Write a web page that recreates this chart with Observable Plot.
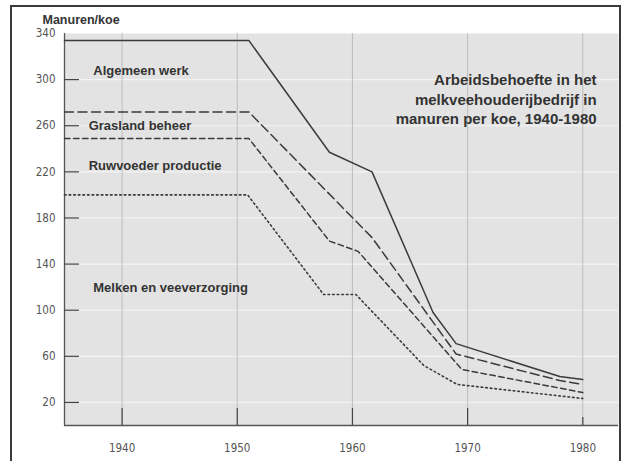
<!DOCTYPE html>
<html>
<head>
<meta charset="utf-8">
<script src="https://cdn.jsdelivr.net/npm/d3@7"></script>
<script src="https://cdn.jsdelivr.net/npm/@observablehq/plot@0.6"></script>
<style>
  html, body { margin: 0; padding: 0; background: #ffffff; }
  #wrap { position: relative; width: 623px; height: 461px; overflow: hidden; background: #fff; }
  #border { position: absolute; left: 10px; top: 5px; width: 607px; height: 480px; border: 2.5px solid #3a3a3a; pointer-events: none; }
  #wrap svg { position: absolute; left: 0; top: 0; }
</style>
</head>
<body>
<div id="wrap"><div id="border"></div></div>
<script>
// Series
const algemeenYears  = [1935, 1951, 1958, 1961.7, 1967, 1969, 1978, 1980];
const algemeenValues = [334, 334, 237, 220, 98, 71, 42.5, 40];

const graslandYears  = [1935, 1951, 1961.7, 1969, 1978, 1980];
const graslandValues = [272, 272, 163, 62, 39, 35.5];

const ruwvoederYears  = [1935, 1951, 1958, 1960.5, 1969.5, 1980];
const ruwvoederValues = [249, 249, 160, 151, 48.6, 28.6];

const melkenYears  = [1935, 1950.9, 1957.5, 1960.3, 1966.2, 1969.1, 1980];
const melkenValues = [200, 200, 113.6, 113.6, 52, 35.6, 23.4];

const xTicks = [1940, 1950, 1960, 1970, 1980];
const yTicks = [20, 60, 100, 140, 180, 220, 260, 300, 340];
const yTickMarks = [20, 60, 100, 140, 180, 220, 260, 300];

const labelTexts = ["Algemeen werk", "Grasland beheer", "Ruwvoeder productie", "Melken en veeverzorging"];
const labelYears = [1937.5, 1937.1, 1937.1, 1937.5];
const labelValues = [308, 259.5, 225.5, 119];

const titleText = "Arbeidsbehoefte in het\nmelkveehouderijbedrijf in\nmanuren per koe, 1940-1980";
const titleYear = 1981.2;
const titleValue = 283.5;
const yAxisTitle = "Manuren/koe";

const toRows = (xs, ys) => xs.map((x, i) => ({x, y: ys[i]}));
const algemeen = toRows(algemeenYears, algemeenValues);
const grasland = toRows(graslandYears, graslandValues);
const ruwvoeder = toRows(ruwvoederYears, ruwvoederValues);
const melken = toRows(melkenYears, melkenValues);
const labels = labelTexts.map((t, i) => ({t, x: labelYears[i], y: labelValues[i]}));

const lineColor = "#3b3b3b";
const boldFont = "Liberation Sans, Arial, Helvetica, sans-serif";
const tickFont = "DejaVu Sans Condensed, Liberation Sans Narrow, sans-serif";

const chart = Plot.plot({
  width: 623,
  height: 461,
  marginLeft: 64,
  marginRight: 5,
  marginTop: 33,
  marginBottom: 36,
  style: {background: "transparent"},
  x: {domain: [1935, 1983.1]},
  y: {domain: [0, 340]},
  marks: [
    Plot.frame({fill: "#e3e3e3", stroke: null}),
    Plot.gridY(yTickMarks, {stroke: "#f4f4f4", strokeOpacity: 1, strokeWidth: 1.2}),
    Plot.gridX(xTicks, {stroke: "#b4b4b4", strokeOpacity: 1, strokeWidth: 0.8}),
    Plot.ruleX([1935], {stroke: "#555", strokeWidth: 1.3}),
    Plot.ruleY([0], {stroke: "#555", strokeWidth: 1.3}),
    Plot.ruleY(yTickMarks, {y: d => d, x1: 1935, x2: 1936.3, stroke: "#444", strokeWidth: 1.2}),
    Plot.ruleX(xTicks, {x: d => d, y1: 0, y2: d => d === 1980 ? 7 : 14.7, stroke: "#444", strokeWidth: 1.2}),
    Plot.axisY(yTicks, {tickSize: 0, tickPadding: 9, fontSize: 11.5, fontFamily: tickFont, fill: "#555", label: null}),
    Plot.axisX(xTicks, {tickSize: 0, tickPadding: 18, fontSize: 11.5, fontFamily: tickFont, fill: "#555", label: null, tickFormat: d => String(d)}),
    Plot.line(algemeen, {x: "x", y: "y", stroke: lineColor, strokeWidth: 1.5}),
    Plot.line(grasland, {x: "x", y: "y", stroke: lineColor, strokeWidth: 1.5, strokeDasharray: "9,4.5"}),
    Plot.line(ruwvoeder, {x: "x", y: "y", stroke: lineColor, strokeWidth: 1.5, strokeDasharray: "5.5,3.5"}),
    Plot.line(melken, {x: "x", y: "y", stroke: lineColor, strokeWidth: 1.6, strokeDasharray: "1.6,3"}),
    Plot.text(labels, {x: "x", y: "y", text: "t", textAnchor: "start", fontSize: 13, fontWeight: "bold", fontFamily: boldFont, fill: "#333"}),
    Plot.text([titleText], {x: titleYear, y: titleValue, text: d => d, textAnchor: "end", lineAnchor: "middle", lineHeight: 1.3, fontSize: 15, fontWeight: "bold", fontFamily: boldFont, fill: "#333"}),
    Plot.text([yAxisTitle], {frameAnchor: "top-left", text: d => d, dx: -22, dy: -18, textAnchor: "start", fontSize: 12.5, fontWeight: "bold", fontFamily: boldFont, fill: "#333"})
  ]
});
document.getElementById("wrap").insertBefore(chart, document.getElementById("border"));
</script>
</body>
</html>
